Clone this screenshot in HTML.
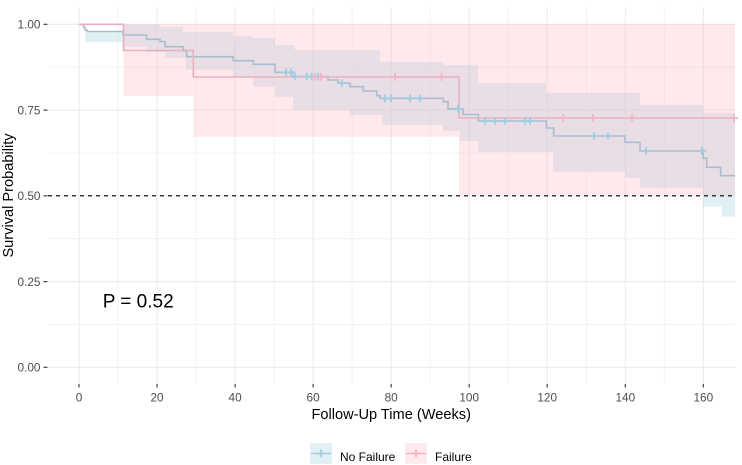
<!DOCTYPE html>
<html><head><meta charset="utf-8"><style>
html,body{margin:0;padding:0;background:#fff;}
svg{display:block;}
text{font-family:"Liberation Sans",Arial,sans-serif;}
</style></head><body>
<svg width="742" height="465" viewBox="0 0 742 465" xmlns="http://www.w3.org/2000/svg">
<rect width="742" height="465" fill="#fff"/>
<!-- minor grid -->
<g stroke="#f0f0f0" stroke-width="0.8">
<line x1="118" y1="7" x2="118" y2="384"/><line x1="196.1" y1="7" x2="196.1" y2="384"/>
<line x1="274.1" y1="7" x2="274.1" y2="384"/><line x1="352.1" y1="7" x2="352.1" y2="384"/>
<line x1="430.2" y1="7" x2="430.2" y2="384"/><line x1="508.2" y1="7" x2="508.2" y2="384"/>
<line x1="586.3" y1="7" x2="586.3" y2="384"/><line x1="664.3" y1="7" x2="664.3" y2="384"/>
<line x1="48" y1="324.4" x2="735" y2="324.4"/><line x1="48" y1="238.7" x2="735" y2="238.7"/>
<line x1="48" y1="153" x2="735" y2="153"/><line x1="48" y1="67.2" x2="735" y2="67.2"/>
</g>
<!-- major grid -->
<g stroke="#ebebeb" stroke-width="1.1">
<line x1="79" y1="7" x2="79" y2="384"/><line x1="157" y1="7" x2="157" y2="384"/>
<line x1="235.1" y1="7" x2="235.1" y2="384"/><line x1="313.1" y1="7" x2="313.1" y2="384"/>
<line x1="391.2" y1="7" x2="391.2" y2="384"/><line x1="469.2" y1="7" x2="469.2" y2="384"/>
<line x1="547.2" y1="7" x2="547.2" y2="384"/><line x1="625.3" y1="7" x2="625.3" y2="384"/>
<line x1="703.3" y1="7" x2="703.3" y2="384"/>
<line x1="48" y1="367.3" x2="735" y2="367.3"/><line x1="48" y1="281.6" x2="735" y2="281.6"/>
<line x1="48" y1="195.8" x2="735" y2="195.8"/><line x1="48" y1="110.1" x2="735" y2="110.1"/>
<line x1="48" y1="24.3" x2="735" y2="24.3"/>
</g>

<!-- No Failure CI band -->
<path fill="rgba(173,216,230,0.38)" d="
M85,31.5 H123 V24.3 H160 V27 H183 V32 H233 V36 H253 V38 H275 V45 H295 V50 H380 V61.7 H443 V65 H478 V83 H546 V92.7 H640 V105 H703 V113 H735
V216.7 H722 V206.7 H703 V188 H640 V178 H625 V171.7 H553 V152 H478 V141 H460 V131 H443 V125 H382 V115 H350 V110 H293 V96.7 H275 V86.7 H253 V77 H233 V70 H186 V58 H165 V52 H147 V47 H123 V42 H85 Z"/>
<!-- Failure CI band -->
<path fill="rgba(255,182,193,0.3)" d="M123.5,24.3 H193.3 V95.7 H123.5 Z"/>
<path fill="rgba(255,182,193,0.3)" d="M193.3,24.3 H459 V136.7 H193.3 Z"/>
<path fill="rgba(255,182,193,0.3)" d="M459,24.3 H735 V195 H459 Z"/>

<!-- median dashed line -->
<line x1="48" y1="195.8" x2="735" y2="195.8" stroke="#000" stroke-width="1.1" stroke-dasharray="4 4"/>

<!-- No Failure curve -->
<path fill="none" stroke="#a6bfd0" stroke-width="1.6" d="M79,24.3 H83.5 V27 H85 V30 H87 V31.5 H123 V35 H146.7 V39.3 H160 V41.7 H165 V46.7 H183.3 V51 H186.7 V56.7 H233.3 V60.7 H253.3 V64.3 H275 V72.3 H292 V76.5 H328 V80 H338 V83 H350 V86.7 H363.3 V91 H376.7 V95.7 H380 V98.3 H443.3 V101.7 H448 V108.8 H463 V114.5 H478.3 V121 H546.3 V128 H553.7 V136 H625 V142.3 H640 V151 H703.3 V158.3 H706.7 V167.3 H720.7 V175.7 H735"/>
<!-- Failure curve -->
<path fill="none" stroke="#e8b0bf" stroke-width="1.6" d="M79,24.3 H123.5 V50.5 H193.3 V77 H459 V118 H735"/>

<!-- No Failure censors -->
<g stroke="#9fcde2" stroke-width="1.8" fill="none">
<path d="M282,72.3h8M286,68.5v7.6"/><path d="M287,72.3h8M291,68.5v7.6"/>
<path d="M291,76.5h8M295,72.7v7.6"/><path d="M302.7,76.5h8M306.7,72.7v7.6"/>
<path d="M307.7,76.5h8M311.7,72.7v7.6"/><path d="M314,76.5h8M318,72.7v7.6"/>
<path d="M338,83h8M342,79.2v7.6"/>
<path d="M381,98.3h8M385,94.5v7.6"/><path d="M387,98.3h8M391,94.5v7.6"/>
<path d="M406,98.3h8M410,94.5v7.6"/><path d="M416,98.3h8M420,94.5v7.6"/>
<path d="M454,108.8h8M458,105v7.6"/>
<path d="M481,121h8M485,117.2v7.6"/><path d="M491,121h8M495,117.2v7.6"/>
<path d="M501,121h8M505,117.2v7.6"/><path d="M521,121h8M525,117.2v7.6"/>
<path d="M526,121h8M530,117.2v7.6"/>
<path d="M590,136h8M594,132.2v7.6"/><path d="M604,136h8M608,132.2v7.6"/>
<path d="M642,151h8M646,147.2v7.6"/><path d="M698,151h8M702,147.2v7.6"/>
</g>
<!-- Failure censors -->
<g stroke="#f2b3c4" stroke-width="1.8" fill="none">
<path d="M311,77h8M315,73.2v7.6"/><path d="M317,77h8M321,73.2v7.6"/>
<path d="M391,77h8M395,73.2v7.6"/><path d="M437.5,77h8M441.5,73.2v7.6"/>
<path d="M559,118h8M563,114.2v7.6"/><path d="M589,118h8M593,114.2v7.6"/>
<path d="M628,118h8M632,114.2v7.6"/><path d="M730,118h8M734,114.2v7.6"/>
</g>

<!-- axis ticks -->
<g stroke="#333" stroke-width="1.1">
<line x1="43.5" y1="367.3" x2="47.5" y2="367.3"/><line x1="43.5" y1="281.6" x2="47.5" y2="281.6"/>
<line x1="43.5" y1="195.8" x2="47.5" y2="195.8"/><line x1="43.5" y1="110.1" x2="47.5" y2="110.1"/>
<line x1="43.5" y1="24.3" x2="47.5" y2="24.3"/>
<line x1="79" y1="384" x2="79" y2="387.5"/><line x1="157" y1="384" x2="157" y2="387.5"/>
<line x1="235.1" y1="384" x2="235.1" y2="387.5"/><line x1="313.1" y1="384" x2="313.1" y2="387.5"/>
<line x1="391.2" y1="384" x2="391.2" y2="387.5"/><line x1="469.2" y1="384" x2="469.2" y2="387.5"/>
<line x1="547.2" y1="384" x2="547.2" y2="387.5"/><line x1="625.3" y1="384" x2="625.3" y2="387.5"/>
<line x1="703.3" y1="384" x2="703.3" y2="387.5"/>
</g>

<!-- y tick labels -->
<g fill="#4d4d4d" font-size="11.8" text-anchor="end">
<text x="40.5" y="371.5">0.00</text>
<text x="40.5" y="285.8">0.25</text>
<text x="40.5" y="200">0.50</text>
<text x="40.5" y="114.3">0.75</text>
<text x="40.5" y="28.5">1.00</text>
</g>
<!-- x tick labels -->
<g fill="#4d4d4d" font-size="11.8" text-anchor="middle">
<text x="79" y="401.3">0</text><text x="157" y="401.3">20</text>
<text x="235.1" y="401.3">40</text><text x="313.1" y="401.3">60</text>
<text x="391.2" y="401.3">80</text><text x="469.2" y="401.3">100</text>
<text x="547.2" y="401.3">120</text><text x="625.3" y="401.3">140</text>
<text x="703.3" y="401.3">160</text>
</g>

<!-- axis titles -->
<text x="391.2" y="419" font-size="14.6" text-anchor="middle" fill="#000">Follow-Up Time (Weeks)</text>
<text transform="translate(13,195.5) rotate(-90)" font-size="14.6" text-anchor="middle" fill="#000">Survival Probability</text>

<!-- p value -->
<text x="102.7" y="307.3" font-size="19" fill="#000">P = 0.52</text>

<!-- legend -->
<rect x="310" y="443" width="22" height="21" fill="rgba(173,216,230,0.38)"/>
<line x1="311" y1="453.5" x2="331" y2="453.5" stroke="#a9cde0" stroke-width="1.6"/>
<path d="M317,453.5h8M321,449.7v7.6" stroke="#9fcde2" stroke-width="1.8"/>
<text x="340" y="461" font-size="12" fill="#000">No Failure</text>
<rect x="405" y="443" width="22" height="21" fill="rgba(255,182,193,0.3)"/>
<line x1="406" y1="453.5" x2="426" y2="453.5" stroke="#f2b3c4" stroke-width="1.6"/>
<path d="M412,453.5h8M416,449.7v7.6" stroke="#f2b3c4" stroke-width="1.8"/>
<text x="435" y="461" font-size="12" fill="#000">Failure</text>
</svg>
</body></html>
